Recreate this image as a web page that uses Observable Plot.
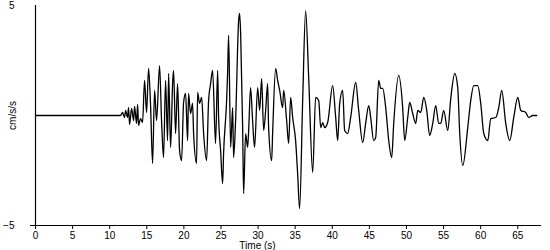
<!DOCTYPE html>
<html>
<head>
<meta charset="utf-8">
<script src="https://cdn.jsdelivr.net/npm/d3@7"></script>
<script src="https://cdn.jsdelivr.net/npm/@observablehq/plot@0.6"></script>
<style>
  html, body { margin: 0; padding: 0; background: #fff; }
  #chart { width: 550px; height: 250px; }
  svg { font-family: "Liberation Sans", Arial, sans-serif; }
</style>
</head>
<body>
<div id="chart"></div>
<script>
// Time (s) of each read point of the trace
const time = [
  0, 11.46, 11.73, 12.00, 12.14, 12.41, 12.54, 12.68, 12.95, 13.22, 13.35, 13.62, 13.76, 13.89,
  14.16, 14.43, 14.70, 14.97, 15.24, 15.51, 15.78, 16.05, 16.32, 16.72, 16.99, 17.26, 17.53,
  17.80, 17.94, 18.21, 18.48, 18.61, 18.88, 19.15, 19.42, 19.69, 19.96, 20.23, 20.50, 20.63,
  20.90, 21.17, 21.31, 21.71, 21.85, 22.12, 22.39, 22.66, 23.06, 23.33, 23.60, 23.87, 24.27,
  24.55, 24.68, 24.95, 25.22, 25.35, 25.76, 25.89, 26.03, 26.30, 26.57, 26.70, 26.97, 27.38,
  27.51, 27.65, 27.92, 28.05, 28.32, 28.59, 28.73, 28.99, 29.26, 29.53, 29.94, 30.21, 30.48,
  30.75, 31.02, 31.29, 31.42, 31.83, 31.96, 32.37, 32.64, 32.91, 33.31, 33.45, 33.85, 34.12,
  34.39, 34.66, 35.06, 35.33, 35.60, 36.01, 36.41, 36.82, 37.36, 37.76, 38.17, 38.44, 38.71,
  38.97, 39.38, 40.05, 40.46, 40.73, 41.00, 41.40, 41.67, 42.08, 42.48, 43.16, 43.56, 44.10,
  44.50, 44.91, 45.18, 45.58, 45.85, 46.26, 46.53, 46.80, 47.20, 47.61, 48.01, 48.28, 48.95,
  49.49, 49.76, 50.17, 50.44, 50.84, 51.25, 51.52, 51.92, 52.33, 52.73, 53.13, 53.54, 53.94,
  54.35, 54.62, 55.02, 55.56, 55.97, 56.51, 56.91, 57.18, 57.59, 58.26, 58.66, 59.07, 59.61,
  60.01, 60.42, 60.96, 61.36, 62.04, 62.44, 62.84, 63.38, 63.92, 64.46, 65.00, 65.41, 66.08,
  66.49, 67.02, 67.56
];
// Acceleration (cm/s/s) at each point
const accel = [
  0, 0, 0.14, -0.09, 0.23, -0.09, 0.36, -0.41, 0.32, -0.23, 0.41, -0.36, 0.50, -0.45,
  -0.14, -0.32, 1.59, 0.14, 2.14, 0.45, -2.18, 1.14, -0.23, 2.27, -0.23, -1.91, 1.59,
  -1.14, 1.91, -1.45, 1.45, 2.05, -0.82, 1.45, -1.59, -2.05, 0.59, 1.00, -1.14, 1.00,
  0.09, 0.55, -0.82, -2.18, 1.05, 0.55, 0.82, -0.82, -2.05, 0.68, 1.45, 2.05, -1.27,
  2.05, -0.09, -1.59, -3.09, -1.73, 0.68, 1.91, 3.64, -1.45, 0.36, -1.91, -0.23, 4.32,
  4.64, 3.73, -0.55, -3.55, -0.82, -1.45, -0.68, 1.27, -0.23, -1.45, 1.27, 0.23, 1.68,
  -0.68, 0.23, 1.45, -0.55, -2.05, -0.82, 2.14, 1.59, 1.14, 0.36, 1.14, -0.23, -1.27,
  0.82, -0.09, -1.14, -2.64, -4.23, 0.68, 4.77, 1.73, -2.59, 0.82, 0.68, -0.55, -0.32,
  -0.55, -0.32, 1.36, -0.09, -1.14, 0.55, 1.14, -0.68, -0.82, -0.09, 1.50, 0.23, -1.23,
  -0.36, 0.45, -0.09, -1.14, -1.00, 1.59, 1.23, 1.23, 0.36, -1.14, -1.91, -0.36, 1.82,
  0.36, -1.14, -0.09, 0.59, 0.09, -0.36, 0.23, 0.14, 0.82, 0.23, -0.91, -0.36, 0.45,
  -0.36, -0.36, 0.23, -0.68, 0.77, 1.91, 1.27, -0.82, -2.27, -0.55, 0.68, 1.36, 1.36,
  0.55, -0.82, -1.14, -0.14, -0.09, 0.36, 1.14, -0.36, -1.14, -0.09, 0.82, 0.23, 0.14,
  -0.09, 0, 0
];
const xTicks = [0, 5, 10, 15, 20, 25, 30, 35, 40, 45, 50, 55, 60, 65];
const yTicks = [-5, 5];
const xDomain = [0, 68.2];
const yDomain = [-5, 5];
const xLabel = "Time (s)";
const yLabel = "cm/s/s";

const data = time.map((t, i) => ({t, a: accel[i]}));

const chart = Plot.plot({
  width: 550,
  height: 250,
  marginLeft: 35,
  marginRight: 9,
  marginTop: 5,
  marginBottom: 25,
  style: {fontFamily: "Liberation Sans, Arial, sans-serif", fontSize: "10px", color: "#000", background: "#fff"},
  x: {domain: xDomain, ticks: xTicks, label: null},
  y: {domain: yDomain, ticks: yTicks, label: null},
  marks: [
    Plot.axisX({ticks: xTicks, tickSize: 4, tickPadding: 2, stroke: "#000", fill: "#000", fontSize: 10}),
    Plot.axisY({ticks: yTicks, tickSize: 0, tickPadding: 21, fill: "#000", fontSize: 10}),
    Plot.ruleX([xDomain[0]], {stroke: "#000", strokeWidth: 1.2}),
    Plot.ruleY([yDomain[0]], {stroke: "#000", strokeWidth: 1.2, insetLeft: -5}),
    Plot.line(data, {x: "t", y: "a", curve: "monotone-x", stroke: "#000", strokeWidth: 1.3}),
    Plot.text([xLabel], {frameAnchor: "bottom", dx: -31, dy: 20, lineAnchor: "middle", fill: "#000", fontSize: 10}),
    Plot.text([yLabel], {frameAnchor: "left", dx: -23, rotate: -90, textAnchor: "middle", fill: "#000", fontSize: 10})
  ]
});
document.getElementById("chart").appendChild(chart);
</script>
</body>
</html>
